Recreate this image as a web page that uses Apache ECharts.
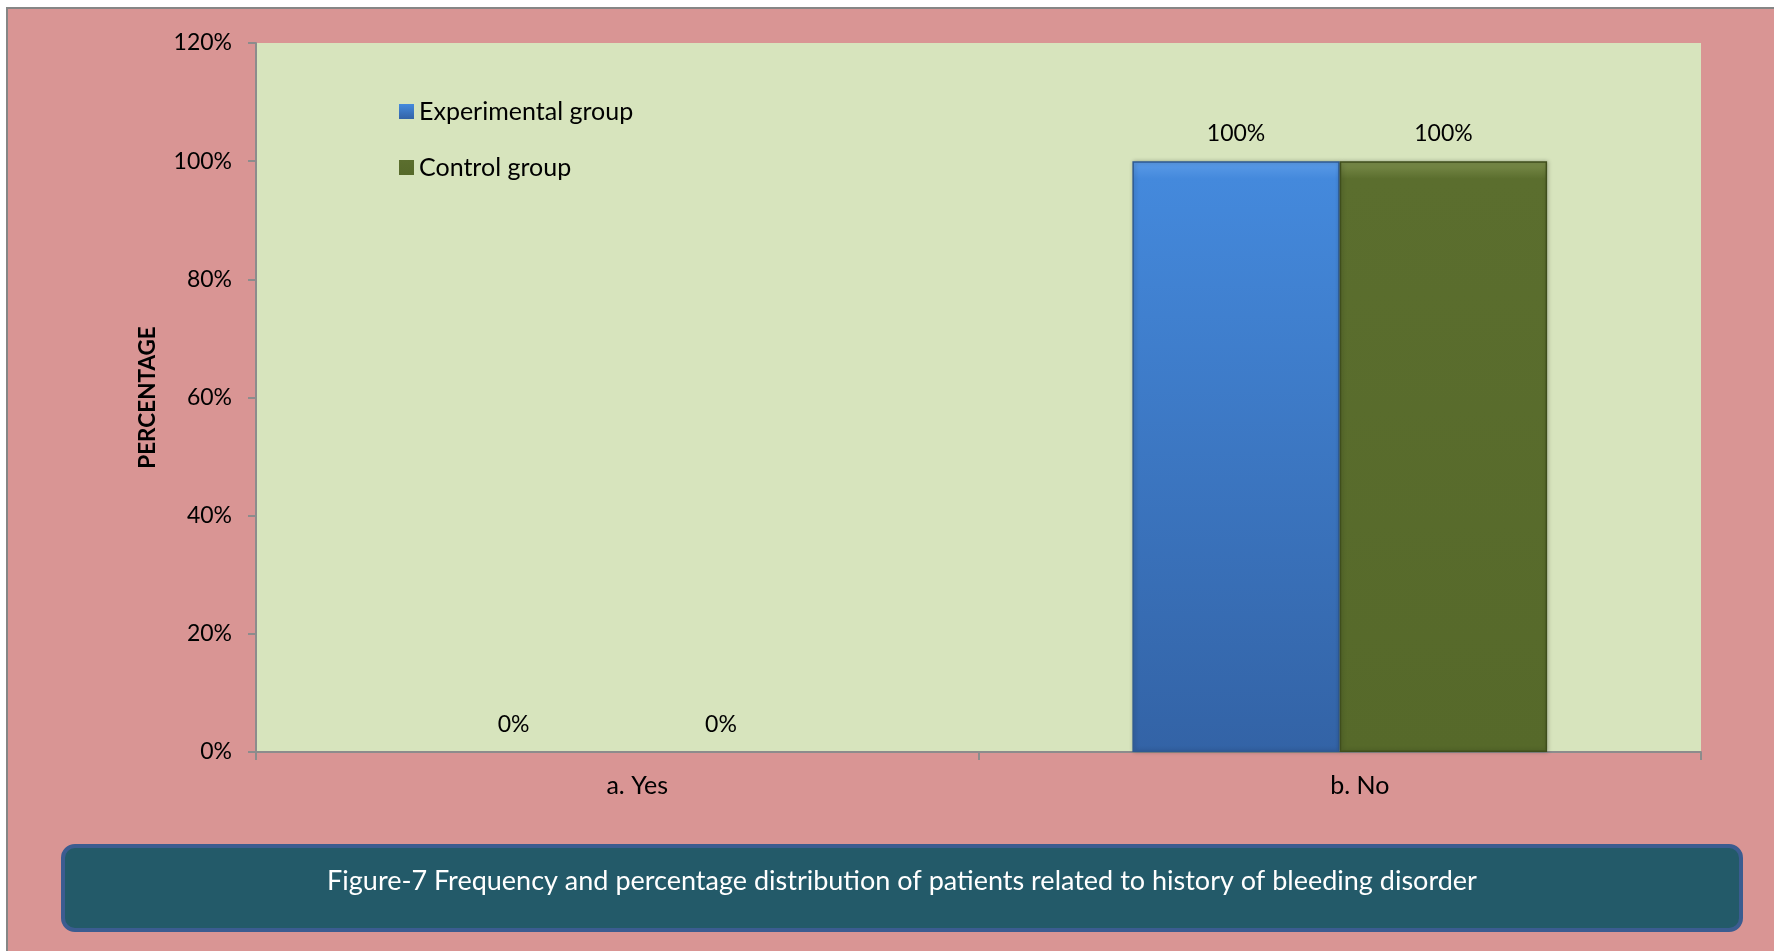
<!DOCTYPE html>
<html>
<head>
<meta charset="utf-8">
<title>History of bleeding disorder</title>
<script src="https://cdn.jsdelivr.net/npm/echarts@6/dist/echarts.min.js"></script>
<style>
  html, body { margin: 0; padding: 0; background: #ffffff; }
  #chart { width: 1774px; height: 951px; }
</style>
</head>
<body>
<div id="chart"></div>
<script>
// Categories and percentages for each group
const categories = ['a. Yes', 'b. No'];
const experimental = [0, 100];
const control = [0, 100];
const seriesNames = ['Experimental group', 'Control group'];
const yTicks = { min: 0, max: 120, step: 20 };
const captionText = 'Figure-7 Frequency and percentage distribution of patients related to history of bleeding disorder';

const FONT = 'Lato, "Open Sans", sans-serif';

const chart = echarts.init(document.getElementById('chart'));

const blueFill = new echarts.graphic.LinearGradient(0, 0, 0, 1, [
  { offset: 0, color: '#5C9CE8' },
  { offset: 0.03, color: '#4489DC' },
  { offset: 1, color: '#3363A6' }
]);
const greenFill = new echarts.graphic.LinearGradient(0, 0, 0, 1, [
  { offset: 0, color: '#7C8E4C' },
  { offset: 0.03, color: '#5B6E2E' },
  { offset: 1, color: '#56692A' }
]);

const valueLabel = {
  show: true,
  position: 'top',
  distance: 16,
  color: '#000',
  fontFamily: FONT,
  fontSize: 23,
  formatter: p => p.value + '%'
};

// zero-height bars get no outline so only their label remains
function toItems(values, border) {
  return values.map(v => ({
    value: v,
    itemStyle: v === 0 ? { borderWidth: 0 } : { borderColor: border, borderWidth: 1.5 }
  }));
}

chart.setOption({
  animation: false,
  graphic: [
    {
      type: 'rect', z: -10, silent: true,
      shape: { x: 7, y: 8, width: 1800, height: 1000 },
      style: { fill: '#D99594', stroke: '#868686', lineWidth: 2 }
    },
    {
      type: 'rect', z: 1, silent: true,
      shape: { x: 63, y: 846, width: 1678, height: 84, r: 12 },
      style: { fill: '#235A69', stroke: '#3B5C90', lineWidth: 4 }
    },
    {
      type: 'text', z: 2, silent: true,
      x: 902, y: 881,
      style: {
        text: captionText,
        fill: '#ffffff',
        font: '27px ' + FONT,
        align: 'center',
        verticalAlign: 'middle'
      }
    }
  ],
  grid: {
    left: 256, right: 73, top: 43, bottom: 199,
    show: true,
    backgroundColor: '#D7E4BD',
    borderWidth: 0
  },
  legend: {
    orient: 'vertical',
    left: 394, top: 94,
    icon: 'rect',
    itemWidth: 15, itemHeight: 15,
    itemGap: 31,
    textStyle: { fontFamily: FONT, fontSize: 25, color: '#000' },
    data: seriesNames
  },
  xAxis: {
    type: 'category',
    data: categories,
    axisLine: { lineStyle: { color: '#8C8C8C', width: 2 } },
    axisTick: { show: true, length: 8, lineStyle: { color: '#8C8C8C', width: 2 } },
    axisLabel: {
      color: '#000', fontFamily: FONT, fontSize: 25, margin: 21,
      padding: [0, 0, 0, 40]
    },
    splitLine: { show: false }
  },
  yAxis: {
    type: 'value',
    min: yTicks.min, max: yTicks.max, interval: yTicks.step,
    name: 'PERCENTAGE',
    nameLocation: 'middle',
    nameRotate: 90,
    nameGap: 97,
    nameTextStyle: { color: '#000', fontFamily: FONT, fontSize: 22.5, fontWeight: 'bold' },
    axisLine: { show: true, lineStyle: { color: '#8C8C8C', width: 2 } },
    axisTick: { show: true, length: 8, lineStyle: { color: '#8C8C8C', width: 2 } },
    axisLabel: {
      color: '#000', fontFamily: FONT, fontSize: 23, margin: 24,
      formatter: '{value}%'
    },
    splitLine: { show: false }
  },
  series: [
    {
      name: seriesNames[0],
      type: 'bar',
      data: toItems(experimental, '#2E5A92'),
      barGap: '0%',
      barCategoryGap: '42.6%',
      itemStyle: { color: blueFill, shadowColor: 'rgba(0,0,0,0.25)', shadowBlur: 4, shadowOffsetX: 1 },
      label: valueLabel
    },
    {
      name: seriesNames[1],
      type: 'bar',
      data: toItems(control, '#3F4E1C'),
      itemStyle: { color: greenFill, shadowColor: 'rgba(0,0,0,0.25)', shadowBlur: 4, shadowOffsetX: 1 },
      label: valueLabel
    }
  ]
});
</script>
</body>
</html>
